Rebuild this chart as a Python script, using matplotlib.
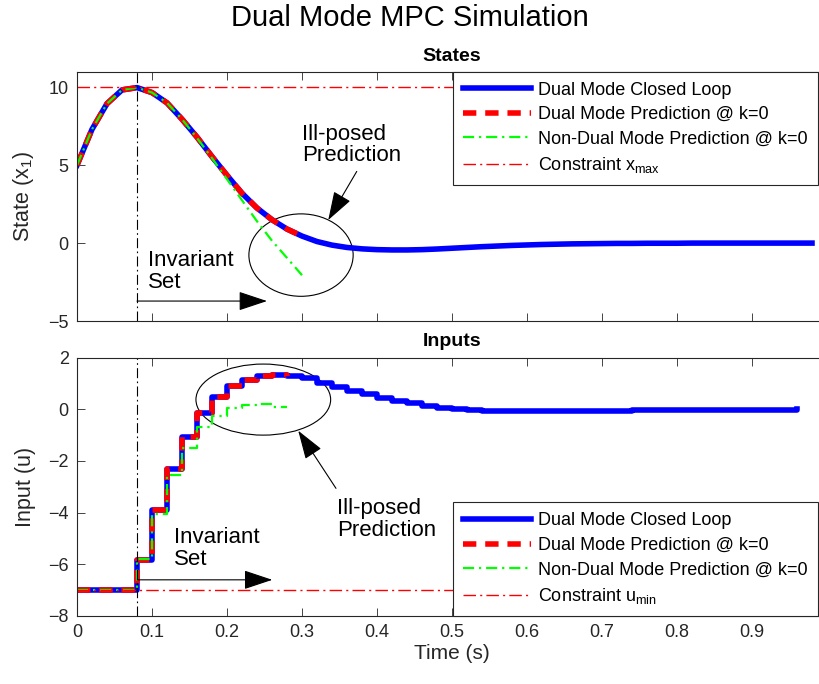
import numpy as np
import matplotlib
matplotlib.use("Agg")
import matplotlib.pyplot as plt
from matplotlib.patches import Ellipse

plt.rcParams['font.family'] = ['Liberation Sans', 'DejaVu Sans']
plt.rcParams['mathtext.default'] = 'regular'

# sample time and data
Ts = 0.02
x_closed = [5.0, 7.3, 8.95, 9.83, 9.98, 9.66, 9.0, 7.95, 6.8, 5.55,
            4.35, 3.2, 2.25, 1.5, 0.9, 0.45, 0.1, -0.13, -0.28, -0.37,
            -0.42, -0.44, -0.44, -0.42, -0.38, -0.33, -0.28, -0.23, -0.19, -0.15,
            -0.12, -0.09, -0.07, -0.05, -0.04, -0.03, -0.02, -0.02, -0.01, -0.01,
            -0.01, 0.0, 0.0, 0.0, 0.0, 0.0, 0.0, 0.0, 0.0, 0.0]
x_dual_pred = [5.0, 7.3, 8.95, 9.83, 9.98, 9.66, 9.0, 7.95, 6.8, 5.55,
               4.35, 3.2, 2.25, 1.5, 0.9, 0.45]
x_nondual_pred = [5.0, 7.3, 8.95, 9.83, 9.98, 9.66, 9.0, 7.95, 6.75, 5.45,
                  4.1, 2.75, 1.4, 0.15, -0.95, -2.06]

u_closed = [-7, -7, -7, -7, -5.85, -3.9, -2.31, -1.08, -0.14, 0.48,
            0.9, 1.13, 1.28, 1.31, 1.27, 1.2, 1.03, 0.87, 0.72, 0.58,
            0.45, 0.33, 0.23, 0.14, 0.06, 0.01, -0.03, -0.05, -0.06, -0.07,
            -0.07, -0.07, -0.07, -0.06, -0.06, -0.05, -0.05, -0.04, -0.04, -0.03,
            -0.03, -0.02, -0.02, -0.02, -0.01, -0.01, -0.01, -0.01, 0.0]
u_dual_pred = [-7, -7, -7, -7, -5.85, -3.9, -2.31, -1.08, -0.14, 0.48,
               0.9, 1.13, 1.28, 1.31, 1.27]
u_nondual_pred = [-7, -7, -7, -7, -5.8, -4.05, -2.55, -1.5, -0.7, -0.27,
                  0.05, 0.18, 0.2, 0.1, 0.08]

x_max = 10
u_min = -7
t_switch = 0.08

t_x = np.arange(len(x_closed)) * Ts
t_xp = np.arange(len(x_dual_pred)) * Ts
t_u = np.arange(len(u_closed)) * Ts
t_up = np.arange(len(u_dual_pred)) * Ts

fig = plt.figure(figsize=(8.19, 6.84), dpi=100)
ax1 = fig.add_axes([77/819, 1-321/684, 750/819, (321-71.7)/684])
ax2 = fig.add_axes([77/819, 1-616/684, 750/819, (616-357.6)/684])

green = (0, 1, 0)
red_dash = (2.4, 1.6)
green_dd = (5, 2.2, 1, 2.2)
thin_dd = (9, 3, 1.5, 3)

# states
ax1.plot(t_x, x_closed, color='b', lw=4, label='Dual Mode Closed Loop')
ax1.plot(t_xp, x_dual_pred, color='r', lw=4, dashes=red_dash,
         label='Dual Mode Prediction @ k=0')
ax1.plot(t_xp, x_nondual_pred, color=green, lw=1.6, dashes=green_dd,
         label='Non-Dual Mode Prediction @ k=0')
ax1.axhline(x_max, color='r', lw=1.0, dashes=thin_dd, label='Constraint x$_{max}$')
ax1.axvline(t_switch, color='k', lw=0.8, dashes=thin_dd)

# inputs
ax2.step(t_u, u_closed, where='post', color='b', lw=4, label='Dual Mode Closed Loop')
ax2.step(t_up, u_dual_pred, where='post', color='r', lw=4, dashes=red_dash,
         label='Dual Mode Prediction @ k=0')
ax2.step(t_up, u_nondual_pred, where='post', color=green, lw=1.6, dashes=green_dd,
         label='Non-Dual Mode Prediction @ k=0')
ax2.axhline(u_min, color='r', lw=1.0, dashes=thin_dd, label='Constraint u$_{min}$')
ax2.axvline(t_switch, color='k', lw=0.8, dashes=thin_dd)

ax1.set_xlim(0, 1)
ax1.set_ylim(-5, 11)
ax1.set_yticks([-5, 0, 5, 10])
ax2.set_xlim(0, 1)
ax2.set_ylim(-8, 2)
ax2.set_yticks([-8, -6, -4, -2, 0, 2])
xt = [0, 0.1, 0.2, 0.3, 0.4, 0.5, 0.6, 0.7, 0.8, 0.9]
ax1.set_xticks(xt)
ax1.set_xticklabels([])
ax2.set_xticks(xt)
ax2.set_xticklabels(['0', '0.1', '0.2', '0.3', '0.4', '0.5', '0.6', '0.7', '0.8', '0.9'])

for ax in (ax1, ax2):
    ax.tick_params(direction='in', top=True, right=True, length=6, width=0.6,
                   labelsize=13, pad=6, colors='#262626')
    for s in ax.spines.values():
        s.set_linewidth(0.8)
        s.set_color('#262626')

ax1.set_title('States', fontsize=14, fontweight='bold', pad=8)
ax2.set_title('Inputs', fontsize=14, fontweight='bold', pad=8)
ax1.set_ylabel('State (x$_1$)', fontsize=15.5, color='#262626', labelpad=9)
ax2.set_ylabel('Input (u)', fontsize=15.5, color='#262626', labelpad=9)
ax2.set_xlabel('Time (s)', fontsize=15, color='#262626', labelpad=2)

fig.text(0.5, 1-18/684, 'Dual Mode MPC Simulation', fontsize=21, ha='center', va='center')

leg_kw = dict(fontsize=13, frameon=True, fancybox=False, framealpha=1,
              edgecolor='#262626', borderaxespad=0, handlelength=3.8,
              handletextpad=0.4, labelspacing=0.42, borderpad=0.55)
l1 = ax1.legend(loc='upper right', bbox_to_anchor=(741/750, 1.0), **leg_kw)
l2 = ax2.legend(loc='lower right', bbox_to_anchor=(741/750, 0.0), **leg_kw)
for l in (l1, l2):
    l.get_frame().set_linewidth(0.8)

arrow = dict(arrowstyle='-|>,head_length=0.9,head_width=0.3', color='k', lw=0.8,
             mutation_scale=20, shrinkA=0, shrinkB=0)

# annotations: states
ax1.add_patch(Ellipse((0.2987, -0.77), 0.139, 5.29, fill=False, lw=0.8, color='k'))
ax1.text(0.2996, 6.3, 'Ill-posed\nPrediction', fontsize=16, ha='left', va='center',
         linespacing=1.05)
ax1.annotate('', xy=(0.335, 1.48), xytext=(0.373, 4.6), arrowprops=arrow)
ax1.text(0.0947, -1.8, 'Invariant\nSet', fontsize=16, ha='left', va='center',
         linespacing=1.05)
ax1.annotate('', xy=(0.2533, -3.72), xytext=(0.08, -3.72), arrowprops=arrow)

# annotations: inputs
ax2.add_patch(Ellipse((0.2484, 0.375), 0.1796, 2.75, fill=False, lw=0.8, color='k'))
ax2.text(0.3467, -4.28, 'Ill-posed\nPrediction', fontsize=16, ha='left', va='center',
         linespacing=1.05)
ax2.annotate('', xy=(0.295, -0.83), xytext=(0.3453, -3.06), arrowprops=arrow)
ax2.text(0.1297, -5.38, 'Invariant\nSet', fontsize=16, ha='left', va='center',
         linespacing=1.05)
ax2.annotate('', xy=(0.2604, -6.6), xytext=(0.0804, -6.6), arrowprops=arrow)

fig.savefig('out.png', dpi=100)
